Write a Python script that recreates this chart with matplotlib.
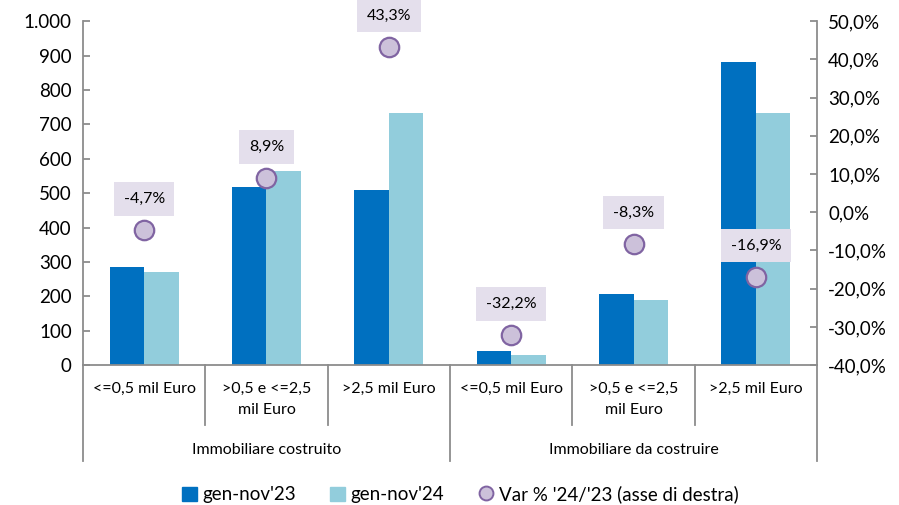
import matplotlib
matplotlib.use('Agg')
import matplotlib.pyplot as plt
from matplotlib.ticker import FuncFormatter, MultipleLocator
from matplotlib.patches import Patch
from matplotlib.lines import Line2D
import numpy as np

plt.rcParams['font.family'] = ['Lato', 'DejaVu Sans']

categories = ['<=0,5 mil Euro', '>0,5 e <=2,5\nmil Euro', '>2,5 mil Euro',
              '<=0,5 mil Euro', '>0,5 e <=2,5\nmil Euro', '>2,5 mil Euro']
groups = ['Immobiliare costruito', 'Immobiliare da costruire']
vals_23 = [285, 518, 510, 42, 207, 881]
vals_24 = [272, 563, 733, 28, 190, 732]
var_pct = [-4.7, 8.9, 43.3, -32.2, -8.3, -16.9]

c23 = '#0070c0'
c24 = '#92cddc'
grey = '#8c8c8c'

fig = plt.figure(figsize=(8.99, 5.05), dpi=100)
ax = fig.add_axes([0.0923, 0.277, 0.8165, 0.681])

x = np.arange(len(categories))
w = 0.283
ax.bar(x - w / 2, vals_23, w, color=c23, zorder=2)
ax.bar(x + w / 2, vals_24, w, color=c24, zorder=2)
ax.set_xlim(-0.5, len(categories) - 0.5)
ax.set_ylim(0, 1000)
ax.yaxis.set_major_locator(MultipleLocator(100))
ax.yaxis.set_major_formatter(FuncFormatter(lambda v, p: '{:,.0f}'.format(v).replace(',', '.')))
ax.set_xticks([])
for s in ['top', 'right']:
    ax.spines[s].set_visible(False)
for s in ['left', 'bottom']:
    ax.spines[s].set_color(grey)
    ax.spines[s].set_linewidth(1.3)
ax.tick_params(axis='y', direction='in', length=5, color=grey, width=1.3, labelsize=13.5, pad=8)

ax2 = ax.twinx()
ax2.set_ylim(-0.4, 0.5)
ax2.yaxis.set_major_locator(MultipleLocator(0.1))
ax2.yaxis.set_major_formatter(FuncFormatter(lambda v, p: '{:.1f}%'.format(v * 100 + 0.0).replace('.', ',')))
for s in ['top', 'left', 'bottom']:
    ax2.spines[s].set_visible(False)
ax2.spines['right'].set_color(grey)
ax2.spines['right'].set_linewidth(1.3)
ax2.tick_params(axis='y', direction='in', length=5, color=grey, width=1.3, labelsize=13.5, pad=8)

pct = np.array(var_pct) / 100
ax2.plot(x, pct, 'o', ms=14, mfc='#ccc1da', mec='#8064a2', mew=1.6, zorder=5)
for xi, p, v in zip(x, pct, var_pct):
    ax2.annotate('{:.1f}%'.format(v).replace('.', ','), (xi, p), xytext=(0, 22.5),
                 textcoords='offset points', ha='center', va='center', fontsize=11.5,
                 bbox=dict(boxstyle='square,pad=0.6', fc='#e4dfec', ec='none'), zorder=6)

# category axis
trans = ax.get_xaxis_transform()
for xi, lab in zip(x, categories):
    ax.text(xi, -0.05, lab, transform=trans, ha='center', va='top', fontsize=11.5,
            linespacing=1.6)
for gi, g in enumerate(groups):
    ax.text(gi * 3 + 1, -0.246, g, transform=trans, ha='center', va='center', fontsize=11.5)
for b in np.arange(-0.5, len(categories), 1.0):
    low = -0.279 if b in (-0.5, 2.5, 5.5) else -0.174
    ax.plot([b, b], [0, low], transform=trans, color=grey, lw=1.3, clip_on=False)

handles = [Patch(color=c23), Patch(color=c24),
           Line2D([], [], ls='none', marker='o', ms=10, mfc='#ccc1da', mec='#8064a2', mew=1.4)]
labels = ["gen-nov'23", "gen-nov'24", "Var % '24/'23 (asse di destra)"]
fig.legend(handles, labels, loc='lower center', bbox_to_anchor=(0.512, -0.03), ncol=3,
           frameon=False, fontsize=13.5, handlelength=0.8, handleheight=0.8,
           handletextpad=0.3, columnspacing=1.8)

fig.savefig('out.png', dpi=100)
